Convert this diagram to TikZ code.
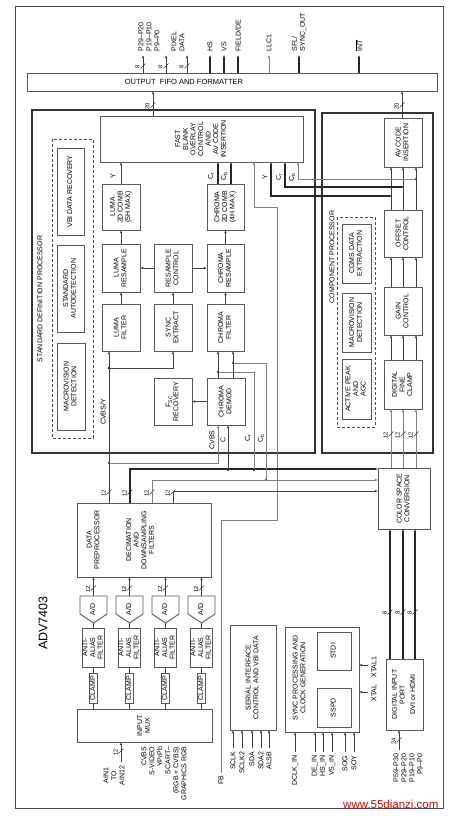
\documentclass[tikz,border=0pt]{standalone}
\usepackage{fontspec}
\setmainfont{Liberation Sans}
\usetikzlibrary{arrows.meta,calc}
\newcommand\rt[1]{\rotatebox{90}{\renewcommand\arraystretch{0.95}\begin{tabular}{@{}c@{}}#1\end{tabular}}}
\newcommand\bx[7][]{%
  \pgfmathsetmacro\BXw{#5-#3}\pgfmathsetmacro\BXh{#6-#4}%
  \node[box,minimum width=\BXw pt,minimum height=\BXh pt,#1] (#2) at ({(#3+#5)/2},{(#4+#6)/2}) {\rt{#7}};}
\newcommand\busm[3]{%
  \draw[line width=0.5pt,black!80] (#1-2.5,#2+2.5) -- (#1+2.5,#2-2.5);
  \node[rotate=90,font=\fontsize{5.8}{6}\selectfont,inner sep=0.3pt] at (#1-5.5,#2+1) {#3};}
\begin{document}
\begin{tikzpicture}[x=1pt,y=-1pt,
  every node/.style={font=\fontsize{7}{8}\selectfont},
  box/.style={draw=black!65,line width=0.9pt,fill=white,inner sep=0pt,outer sep=0pt},
  arr/.style={-{Latex[length=3.2pt,width=2.6pt]}},
  tk/.style={line width=1.1pt,black!85},
  tn/.style={line width=0.6pt,black!50},
  md/.style={line width=0.8pt,black!75},
  lab/.style={rotate=90,inner sep=0.5pt},
  dot/.style={circle,fill=black!85,inner sep=0pt,minimum size=2.2pt}]
\useasboundingbox (0,0) rectangle (449,816);
\draw[line width=1pt,black!70] (15,7) rectangle (443,808);

% ---------- output fifo ----------
\node[box,minimum width=410pt,minimum height=18pt] (fifo) at (232,82) {};
\node[font=\fontsize{7.5}{8}\selectfont] at (184,82) {OUTPUT\ \ FIFO AND FORMATTER};
\foreach \x/\n in {143/o1,166/o2,187/o3,210/o4,224/o5,238/o6,269/o7,299/o8,359/o9}
  \coordinate (\n) at (\x,55);
\foreach \n in {o1,o2,o3} \draw[md,arr] (fifo.north -| \n) -- (\n);
\foreach \n in {o4,o5,o6,o8,o9} \draw[tk,arr] (fifo.north -| \n) -- (\n);
\draw[tn,arr] (fifo.north -| o7) -- (o7);
\busm{143}{66}{8}\busm{166}{66}{8}\busm{187}{66}{8}
\node[lab,anchor=west,align=left] at (149,52) {P29–P20\\P19–P10\\P9–P0};
\node[lab,anchor=west,align=left] at (178,52) {PIXEL\\DATA};
\node[lab,anchor=west] at (210,52) {HS};
\node[lab,anchor=west] at (224,52) {VS};
\node[lab,anchor=west] at (238,52) {FIELD/DE};
\node[lab,anchor=west] at (269,52) {LLC1};
\node[lab,anchor=west,align=left] at (299,52) {SFL/\\SYNC\_OUT};
\node[lab,anchor=west] at (359,52) {\ensuremath{\overline{\hbox{INT}}}};

% ---------- standard definition processor ----------
\draw[line width=1.3pt,black!80] (32,110) rectangle (315,453);
\node[lab] at (40,299) {STANDARD DEFINITION PROCESSOR};
\draw[line width=0.8pt,black!70,dash pattern=on 3pt off 2pt] (52,139) rectangle (93,438);
\bx{vbi}{57}{148}{84}{235}{VBI DATA RECOVERY}
\bx{autod}{57}{245}{84}{332}{STANDARD\\AUTODETECTION}
\bx{mvsd}{57}{343}{85}{430}{MACROVISION\\DETECTION}
\bx{fb}{100}{116}{303}{162}{FAST\\BLANK\\OVERLAY\\CONTROL\\AND\\AV CODE\\INSERTION}
\bx{lcomb}{102}{184}{140}{230}{LUMA\\2D COMB\\(5H MAX)}
\bx{ccomb}{207}{184}{244}{230}{CHROMA\\2D COMB\\(4H MAX)}
\bx{lres}{102}{244}{140}{292}{LUMA\\RESAMPLE}
\bx{rctl}{154}{244}{192}{292}{RESAMPLE\\CONTROL}
\bx{cres}{207}{244}{244}{292}{CHROMA\\RESAMPLE}
\bx{lfil}{102}{304}{140}{351}{LUMA\\FILTER}
\bx{sync}{154}{304}{192}{351}{SYNC\\EXTRACT}
\bx{cfil}{207}{304}{244}{351}{CHROMA\\FILTER}
\bx{fsc}{154}{378}{192}{425}{F\textsubscript{SC}\\RECOVERY}
\bx{cdem}{207}{378}{245}{425}{CHROMA\\DEMOD}

\draw[md,arr] (lcomb.north) -- (fb.south -| lcomb.north);
\node[lab] at (113,176) {Y};
\draw[tk,arr] (ccomb.north -| 218,0) -- (fb.south -| 218,0);
\draw[tk,arr] (ccomb.north -| 231,0) -- (fb.south -| 231,0);
\node[lab] at (211,176) {C\textsubscript{r}};
\node[lab] at (224,176) {C\textsubscript{b}};
\draw[md,arr] (lres.north) -- (lcomb.south);
\draw[md,arr] (cres.north) -- (ccomb.south);
\draw[md,arr] (lfil.north) -- (lres.south);
\draw[md,arr] (sync.north) -- (rctl.south);
\draw[md,arr] (cfil.north) -- (cres.south);
\draw[md,arr] (rctl.west) -- (lres.east);
\draw[md,arr] (rctl.east) -- (cres.west);
\draw[md,arr] (cdem.west) -- (fsc.east);
\draw[md,arr] (cdem.north -| 218,0) -- (cfil.south -| 218,0);
\draw[md,arr] (cdem.north -| 233,0) -- (cfil.south -| 233,0);

% ---------- component processor ----------
\draw[line width=1.3pt,black!80] (322,113) rectangle (433,453);
\node[lab] at (332,257) {COMPONENT PROCESSOR};
\draw[line width=0.8pt,black!70,dash pattern=on 3pt off 2pt] (337,217) rectangle (375,427);
\bx{cgms}{342}{224}{371}{283}{CGMS DATA\\EXTRACTION}
\bx{mvcp}{342}{293}{371}{352}{MACROVISION\\DETECTION}
\bx{agc}{342}{359}{371}{419}{ACTIVE PEAK\\AND\\AGC}
\bx{avc}{384}{118}{422}{167}{AV CODE\\INSERTION}
\bx{ofs}{384}{210}{422}{257}{OFFSET\\CONTROL}
\bx{gain}{384}{287}{422}{335}{GAIN\\CONTROL}
\bx{dfc}{384}{360}{422}{409}{DIGITAL\\FINE\\CLAMP}
\bx{csc}{378}{468}{430}{529}{COLOR SPACE\\CONVERSION}
\foreach \x in {391,403,416} {
  \draw[md,arr] (ofs.north -| \x,0) -- (avc.south -| \x,0);
  \draw[md,arr] (gain.north -| \x,0) -- (ofs.south -| \x,0);
  \draw[md,arr] (dfc.north -| \x,0) -- (gain.south -| \x,0);
  \draw[tn,arr] (csc.north -| \x,0) -- (dfc.south -| \x,0);
  \busm{\x}{434}{12}
}
\draw[md,arr] (fb.north -| 153,0) -- (fifo.south -| 153,0);
\busm{153}{105}{20}
\draw[md,arr] (avc.north -| 402,0) -- (fifo.south -| 402,0);
\busm{402}{105}{20}

% Y Cr Cb back to fast blank
\node[dot] (dy) at (391,196) {};
\node[dot] (dr) at (403,187) {};
\node[dot] (db) at (416,179) {};
\draw[tk,arr] (dy) -| (fb.south -| 271,0);
\draw[tk,arr] (dr) -| (fb.south -| 285,0);
\draw[tn,arr] (db) -| (fb.south -| 298,0);
\node[lab] at (265,177) {Y};
\node[lab] at (279,177) {C\textsubscript{r}};
\node[lab] at (292,177) {C\textsubscript{b}};

% FB input
\coordinate (fbin) at (221,773);
\draw[tn,arr] (fbin) -- (221,520) -- (277,520) -- (277,207) -- (254,207) -- (fb.south -| 254,0);
\node[lab,anchor=east] at (221,775) {FB};

% ---------- data preprocessor & ADCs ----------
\node[box,minimum width=134pt,minimum height=74pt] (dpp) at (144,540) {};
\node at (94,540) {\rt{DATA\\PREPROCESSOR}};
\node at (141,540) {\rt{DECIMATION\\AND\\DOWNSAMPLING\\FILTERS}};
\foreach \x in {109,130,152,173} \busm{\x}{492}{12}
% bus 1 : CVBS/Y
\node[dot] (j1) at (109,368) {};
\node[dot] (j2) at (109,463) {};
\draw[md,arr] (dpp.north -| 109,0) -- (lfil.south -| 109,0);
\draw[md,arr] (j1) -| (sync.south);
\node[lab] at (103,412) {CVBS/Y};
\draw[tn,arr] (j2) -| (cdem.south -| 218,0);
\node[lab] at (212,440) {CVBS};
% bus 2
\node[dot] (j3) at (228,470) {};
\node[dot] (j4) at (254,470) {};
\draw[tk,arr] (dpp.north -| 130,0) |- (csc.west |- 0,469);
\draw[md,arr] (j3) -- (cdem.south -| 228,0);
\node[lab] at (223,440) {C};
\node[dot] (j5) at (218,372) {};
\draw[tn] (j4) |- (j5);
\node[lab] at (248,438) {C\textsubscript{r}};
% bus 3
\node[dot] (j6) at (266,480) {};
\node[dot] (j7) at (233,363) {};
\draw[tn,arr] (dpp.north -| 152,0) |- (csc.west |- 0,480);
\draw[tn] (j6) |- (j7);
\node[lab] at (261,438) {C\textsubscript{b}};
% bus 4
\draw[md,arr] (dpp.north -| 173,0) |- (csc.west |- 0,491);

% ADC chains
\foreach \i/\c in {1/93.5,2/129.5,3/165.5,4/201.5} {
  \node[inner sep=0pt,minimum width=27pt,minimum height=27pt] (ad\i) at (\c,609.5) {\rt{A/D}};
  \draw[black!65,line width=0.9pt] (\c-13.5,596) -- (\c+13.5,596) -- (\c+13.5,614) -- (\c,623) -- (\c-13.5,614) -- cycle;
  \bx{aa\i}{\c-13.5}{628}{\c+13.5}{667}{ANTI-\\ALIAS\\FILTER}
  \bx{cl\i}{\c-13.5}{673}{\c+13.5}{703}{CLAMP}
  \draw[md] (cl\i.north) -- (aa\i.south);
  \draw[md] (aa\i.north) -- (\c,623);
  \draw[md,arr] (ad\i.north) -- (dpp.south -| ad\i.north);
  \busm{\c}{588}{12}
}
\node[box,minimum width=135pt,minimum height=33pt] (mux) at (144.5,725.5) {\rt{INPUT\\MUX}};
\foreach \i in {1,2,3,4} \draw[md] (mux.north -| cl\i.south) -- (cl\i.south);
\coordinate (ain) at (121,762);
\draw[md,arr] (ain) -- (mux.south -| ain);
\busm{121}{751}{12}
\node[lab,anchor=east,align=center] at (114,765) {AIN1\\TO\\AIN12};
\node[lab,anchor=east,align=right] at (164,746) {CVBS\\S-VIDEO\\YPrPb\\SCART–\\(RGB + CVBS)\\GRAPHICS RGB};
\node[lab,font=\fontsize{12.5}{13}\selectfont] at (43,623) {ADV7403};

% ---------- serial interface ----------
\bx{ser}{230}{625}{276}{730}{SERIAL INTERFACE\\CONTROL AND VBI DATA}
\foreach \x/\t in {233/SCLK,242/SCLK2,252/SDA,261/SDA2,269/ALSB} {
  \coordinate (s\x) at (\x,748);
  \draw[md,arr] (s\x) -- (ser.south -| s\x);
  \node[lab,anchor=east] at (\x,751) {\t};
}

% ---------- sync processing ----------
\node[box,minimum width=74pt,minimum height=105pt] (spc) at (322,679.5) {};
\node at (300,678) {\rt{SYNC PROCESSING AND\\CLOCK GENERATION}};
\bx{stdi}{317}{632}{351}{670}{STDI}
\bx{sspd}{317}{688}{351}{727}{SSPD}
\foreach \x/\t in {295/DCLK\_IN,315/DE\_IN,323/HS\_IN,332/VS\_IN,345/SOG,354/SOY} {
  \coordinate (y\x) at (\x,752);
  \draw[md,arr] (y\x) -- (spc.south -| y\x);
  \node[lab,anchor=east] at (\x,755) {\t};
}
\coordinate (x1) at (368,665);
\coordinate (x2) at (368,692);
\draw[md,arr] (x1) -- (spc.east |- x1);
\draw[md,arr] (x2) -- (spc.east |- x2);
\node[lab] at (374,679) {XTAL\quad XTAL1};

% ---------- digital input port ----------
\bx{dip}{386}{659}{423}{730}{DIGITAL INPUT\\PORT\\[3pt]DVI or HDMI}
\foreach \x in {390,403,415} {
  \draw[tk,arr] (dip.north -| \x,0) -- (csc.south -| \x,0);
  \busm{\x}{612}{8}
}
\coordinate (din) at (399,750);
\draw[md,arr] (din) -- (dip.south -| din);
\busm{399}{740}{24}
\node[lab,anchor=east,align=right] at (408,753) {P59–P30\\P29–P20\\P19–P10\\P9–P0};

\node[text=red!85!black,font=\fontsize{11.5}{12}\selectfont,anchor=base east] at (442,808) {www.55dianzi.com};
\end{tikzpicture}
\end{document}
